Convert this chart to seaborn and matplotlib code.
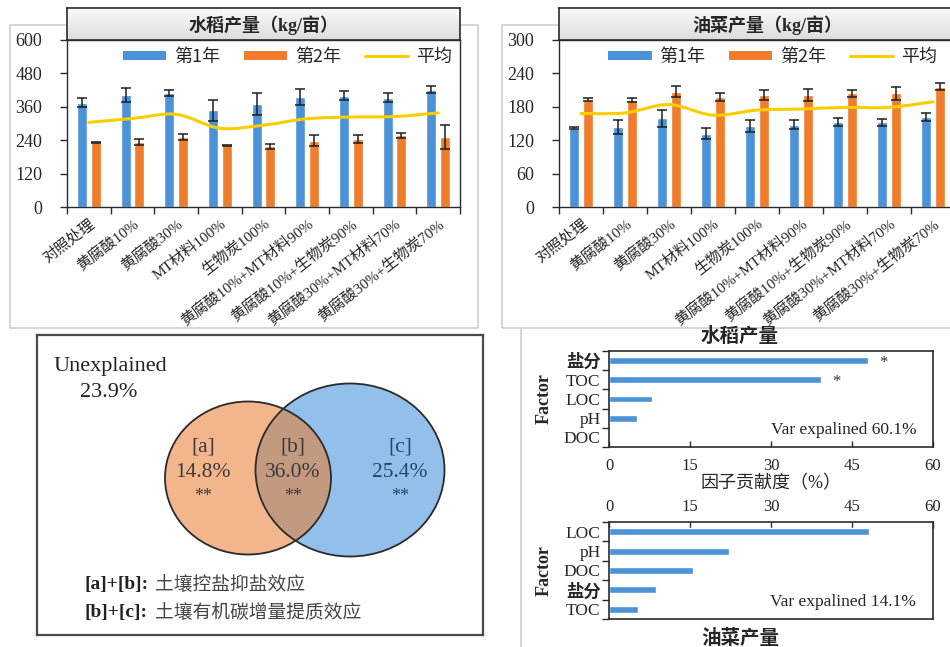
import numpy as np
import pandas as pd
import matplotlib
matplotlib.use("Agg")
import matplotlib.pyplot as plt
import seaborn as sns
from matplotlib.patches import Rectangle, Ellipse, PathPatch
from matplotlib.path import Path
from matplotlib.lines import Line2D
from matplotlib.colors import LinearSegmentedColormap

# ---------------- data ----------------
treatments = ["对照处理", "黄腐酸10%", "黄腐酸30%", "MT材料100%", "生物炭100%",
              "黄腐酸10%+MT材料90%", "黄腐酸10%+生物炭90%",
              "黄腐酸30%+MT材料70%", "黄腐酸30%+生物炭70%"]
years = ["第1年", "第2年"]
avg_label = "平均"

rice_y1 = [375, 404, 410, 348, 370, 396, 400, 392, 422]
rice_y1_err = [15, 25, 10, 38, 38, 28, 15, 16, 12]
rice_y2 = [232, 233, 252, 221, 218, 238, 245, 257, 252]
rice_y2_err = [2, 10, 12, 2, 9, 20, 15, 9, 44]
rice_avg = [304, 318, 333, 283, 294, 317, 323, 325, 338]

rape_y1 = [142, 144, 159, 132, 146, 148, 152, 152, 162]
rape_y1_err = [2, 12, 16, 10, 11, 8, 7, 6, 7]
rape_y2 = [193, 192, 207, 197, 201, 201, 204, 204, 216]
rape_y2_err = [2, 4, 10, 7, 9, 11, 7, 11, 6]
rape_avg = [168, 169, 184, 165, 174, 176, 179, 179, 189]

venn_unexplained = "23.9%"
venn_parts = [("[a]", "14.8%", "**"), ("[b]", "36.0%", "**"), ("[c]", "25.4%", "**")]
venn_notes = [("[a]+[b]:", "土壤控盐抑盐效应"), ("[b]+[c]:", "土壤有机碳增量提质效应")]

rice_factors = ["盐分", "TOC", "LOC", "pH", "DOC"]
rice_contrib = [48.0, 39.3, 7.9, 5.2, 0.0]
rice_sig = ["*", "*", "", "", ""]
rice_note = "Var expalined 60.1%"

rape_factors = ["LOC", "pH", "DOC", "盐分", "TOC"]
rape_contrib = [48.1, 22.3, 15.5, 8.7, 5.3]
rape_sig = ["", "", "", "", ""]
rape_note = "Var expalined 14.1%"

# ---------------- style ----------------
W, H = 950, 647
sns.set_theme(style="ticks")
plt.rcParams["font.family"] = ["Liberation Serif", "Noto Sans CJK SC"]
plt.rcParams["axes.unicode_minus"] = False

BLUE = "#4c92d8"
ORANGE = "#f07d2c"
YELLOW = "#ffcc00"
DARK = "#2b2b2b"
FRAME = "#cfcfcf"
TITLE_CMAP = LinearSegmentedColormap.from_list("title", ["#fbfbfb", "#dcdcdc"])

fig = plt.figure(figsize=(W / 100, H / 100), dpi=100)


def box(x0, y0, x1, y1):
    return [x0 / W, 1 - y1 / H, (x1 - x0) / W, (y1 - y0) / H]


def frame(x0, y0, x1, y1):
    fig.add_artist(Rectangle((x0 / W, 1 - y1 / H), (x1 - x0) / W, (y1 - y0) / H,
                             transform=fig.transFigure, fill=False,
                             ec=FRAME, lw=1.2, zorder=-1))


def smooth_path(xs, ys):
    pts = np.column_stack([xs, ys]).astype(float)
    verts, codes = [pts[0]], [Path.MOVETO]
    n = len(pts)
    for i in range(n - 1):
        p0 = pts[max(i - 1, 0)]
        p1, p2 = pts[i], pts[i + 1]
        p3 = pts[min(i + 2, n - 1)]
        verts += [p1 + (p2 - p0) / 6, p2 - (p3 - p1) / 6, p2]
        codes += [Path.CURVE4] * 3
    return Path(verts, codes)


def yield_panel(rect, title_rect, title, y1, e1, y2, e2, avg, ymax, legend_x):
    ax = fig.add_axes(box(*rect))
    df = pd.DataFrame({
        "处理": treatments * 2,
        "年份": [years[0]] * len(treatments) + [years[1]] * len(treatments),
        "产量": y1 + y2,
    })
    sns.barplot(data=df, x="处理", y="产量", hue="年份", hue_order=years, order=treatments,
                palette=[BLUE, ORANGE], saturation=1, width=0.62, gap=0.26,
                errorbar=None, legend=False, ax=ax)
    for cont, vals, errs in zip(ax.containers, (y1, y2), (e1, e2)):
        xs = [b.get_x() + b.get_width() / 2 for b in cont]
        ax.errorbar(xs, vals, yerr=errs, fmt="none", ecolor="#1e1e1e",
                    elinewidth=1.1, capsize=3.5, capthick=1.1, zorder=4)
    centers = np.arange(len(treatments))
    ax.add_patch(PathPatch(smooth_path(centers, avg), fc="none", ec=YELLOW,
                           lw=2.2, zorder=5, capstyle="round"))

    ax.set_xlim(-0.5, len(treatments) - 0.5)
    ax.set_ylim(0, ymax)
    yt = np.linspace(0, ymax, 6)
    ax.set_yticks(yt)
    ax.set_yticklabels([f"{int(v)}" for v in yt])
    ax.set_xticks(centers)
    ax.set_xticklabels(treatments, rotation=38, ha="right", rotation_mode="anchor", fontsize=11)
    ax.set_xticks(np.arange(-0.5, len(treatments)), minor=True)
    ax.tick_params(axis="x", which="major", length=0, pad=7)
    ax.tick_params(axis="x", which="minor", length=5, width=1, color=DARK, direction="out")
    ax.tick_params(axis="y", which="major", length=5, width=1, color=DARK,
                   direction="out", pad=13, labelsize=13)
    ax.set_xlabel("")
    ax.set_ylabel("")
    for s in ax.spines.values():
        s.set_visible(True)
        s.set_color(DARK)
        s.set_linewidth(1)

    handles = [Rectangle((0, 0), 1, 1, fc=BLUE, ec="none"),
               Rectangle((0, 0), 1, 1, fc=ORANGE, ec="none"),
               Line2D([], [], color=YELLOW, lw=2.2)]
    ax.legend(handles, years + [avg_label], loc="upper right",
              bbox_to_anchor=(legend_x, 0.975), ncol=3, frameon=False,
              prop={"family": ["Noto Sans CJK SC"], "size": 13},
              handlelength=2.4, handleheight=0.4, handletextpad=0.45,
              columnspacing=1.3, borderaxespad=0, borderpad=0.2)

    tx = fig.add_axes(box(*title_rect))
    grad = np.linspace(0, 1, 64).reshape(-1, 1)
    tx.imshow(grad, aspect="auto", cmap=TITLE_CMAP, extent=(0, 1, 0, 1))
    tx.set_xticks([])
    tx.set_yticks([])
    for s in tx.spines.values():
        s.set_color(DARK)
        s.set_linewidth(1.2)
    tx.text(0.5, 0.47, title, ha="center", va="center", fontsize=13,
            fontweight="bold", transform=tx.transAxes)
    return ax


def factor_panel(rect, factors, vals, sig, note, ticks_top):
    ax = fig.add_axes(box(*rect))
    df = pd.DataFrame({"因子": factors, "贡献度": vals})
    sns.barplot(data=df, x="贡献度", y="因子", order=factors, orient="h", color=BLUE,
                saturation=1, width=0.36, errorbar=None, ax=ax)
    for i, (v, s) in enumerate(zip(vals, sig)):
        if s:
            ax.text(v + 2.0, i + 0.12, s, ha="left", va="center", fontsize=12, color="#333333")
    ax.set_xlim(0, 60)
    ax.set_xticks([0, 15, 30, 45, 60])
    ax.set_ylim(len(factors) - 0.5, -0.5)
    ax.set_yticks(range(len(factors)))
    ax.set_yticklabels(factors, fontsize=12.5)
    for lab in ax.get_yticklabels():
        if lab.get_text() == "盐分":
            lab.set_fontweight("bold")
    ax.set_yticks(np.arange(-0.5, len(factors)), minor=True)
    ax.tick_params(axis="y", which="major", length=0, pad=6)
    ax.tick_params(axis="y", which="minor", length=5, width=1, color=DARK, direction="out")
    ax.tick_params(axis="x", which="major", length=4, width=1, color=DARK,
                   direction="in", labelsize=12, pad=5 if ticks_top else 8)
    if ticks_top:
        ax.xaxis.tick_top()
        ax.set_xlabel("")
    else:
        ax.set_xlabel("因子贡献度（%）", fontsize=13, labelpad=1)
    ax.set_ylabel("Factor", fontsize=13, fontweight="bold")
    ax.yaxis.set_label_coords(-0.175, 0.5)
    for s in ax.spines.values():
        s.set_visible(True)
        s.set_color(DARK)
        s.set_linewidth(1.2)
    ax.text(0.948, 0.18, note, transform=ax.transAxes, ha="right", va="center", fontsize=12.5)
    return ax


# ---------------- panel frames ----------------
frame(10, 25, 478, 328)
frame(502, 25, 975, 328)
fig.add_artist(Line2D([521 / W, 521 / W], [1 - 328 / H, 0], transform=fig.transFigure,
                      color=FRAME, lw=1.2, zorder=-1))

# ---------------- yield panels ----------------
yield_panel((67, 40, 460, 207), (67, 8, 460, 40), "水稻产量（kg/亩）",
            rice_y1, rice_y1_err, rice_y2, rice_y2_err, rice_avg, 600, 0.99)
yield_panel((559, 40, 955, 207), (559, 8, 975, 40), "油菜产量（kg/亩）",
            rape_y1, rape_y1_err, rape_y2, rape_y2_err, rape_avg, 300, 0.965)

# ---------------- variance partitioning (Venn) ----------------
vx = fig.add_axes(box(37, 335, 483, 635))
vx.set_xlim(37, 483)
vx.set_ylim(635, 335)
vx.set_xticks([])
vx.set_yticks([])
for s in vx.spines.values():
    s.set_color("#4a4a4a")
    s.set_linewidth(1.6)

blue_e = Ellipse((350, 470), 189, 173, fc="#93c0ea", ec="none", zorder=1)
orange_e = Ellipse((248, 478), 166, 153, fc="#f3b68c", ec="none", zorder=2)
vx.add_patch(blue_e)
vx.add_patch(orange_e)
overlap = Ellipse((248, 478), 166, 153, fc="#c39a80", ec="none", zorder=3)
vx.add_patch(overlap)
overlap.set_clip_path(blue_e)
vx.add_patch(Ellipse((350, 470), 189, 173, fc="none", ec="#2a2a2a", lw=1.3, zorder=4))
vx.add_patch(Ellipse((248, 478), 166, 153, fc="none", ec="#2a2a2a", lw=1.3, zorder=4))

vx.text(110, 366, "Unexplained", ha="center", va="center", fontsize=16, color="#222222")
vx.text(109, 392, venn_unexplained, ha="center", va="center", fontsize=16, color="#222222")
for (lab, pct, star), cx, col in zip(venn_parts, (203, 293, 400),
                                     ("#3a3a3a", "#3a3a3a", "#24456b")):
    vx.text(cx, 447, lab, ha="center", va="center", fontsize=15.5, color=col, zorder=5)
    vx.text(cx, 472, pct, ha="center", va="center", fontsize=15.5, color=col, zorder=5)
    vx.text(cx, 496, star, ha="center", va="center", fontsize=13, color=col, zorder=5)
for (key, desc), ty in zip(venn_notes, (585, 613)):
    vx.text(85, ty, key, ha="left", va="center", fontsize=14, fontweight="bold", color="#222222")
    vx.text(155, ty, desc, ha="left", va="center", fontsize=13.5, color="#444444",
            family=["Noto Sans CJK SC"])

# ---------------- factor contribution panels ----------------
factor_panel((609, 351, 933, 447), rice_factors, rice_contrib, rice_sig, rice_note, False)
factor_panel((609, 522, 933, 619), rape_factors, rape_contrib, rape_sig, rape_note, True)
fig.text(740 / W, 1 - 337 / H, "水稻产量", ha="center", va="center", fontsize=14, fontweight="bold")
fig.text(740 / W, 1 - 638 / H, "油菜产量", ha="center", va="center", fontsize=14, fontweight="bold")

fig.savefig("out.png", dpi=100)
